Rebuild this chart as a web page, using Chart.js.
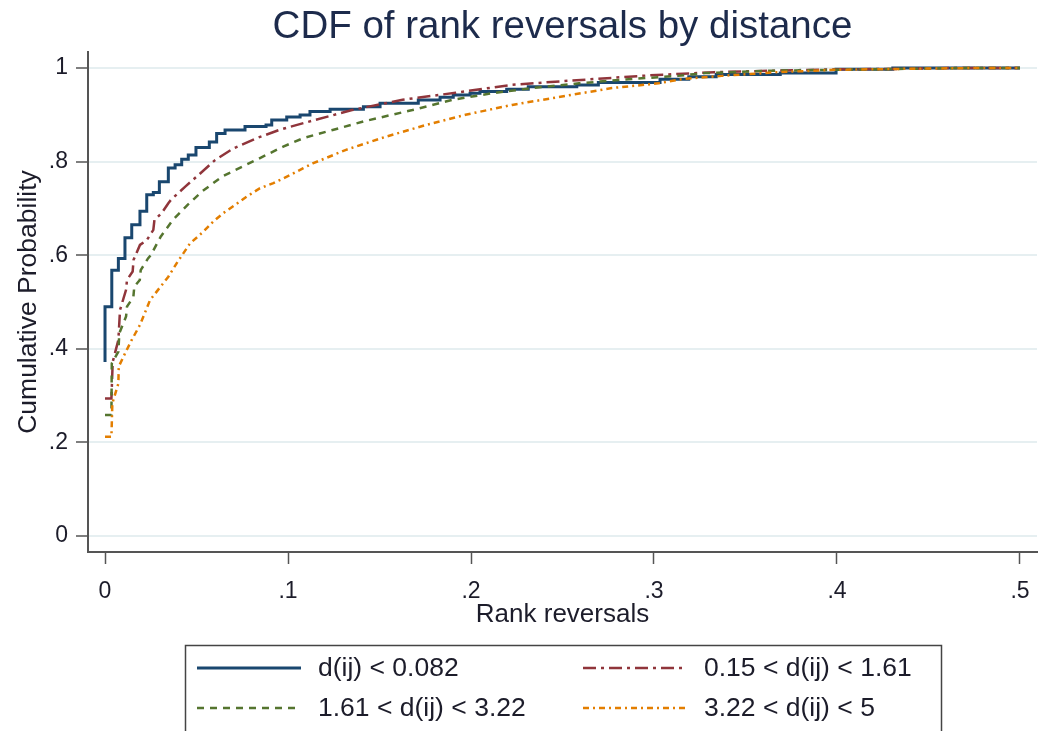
<!DOCTYPE html>
<html>
<head>
<meta charset="utf-8">
<script src="https://cdn.jsdelivr.net/npm/chart.js@4"></script>
<style>
  body { margin: 0; background: #fff; }
</style>
</head>
<body>
<canvas id="cdfChart" width="1040" height="731"></canvas>
<script>
// values
const seriesLabels = ['d(ij) < 0.082', '0.15 < d(ij) < 1.61', '1.61 < d(ij) < 3.22', '3.22 < d(ij) < 5'];

const navyX = [0, 0.0037, 0.0073, 0.0109, 0.0146, 0.0191, 0.0228, 0.0264, 0.0297, 0.0346, 0.0383, 0.0419, 0.0455, 0.0497, 0.057, 0.061, 0.0656, 0.0765, 0.088, 0.0911, 0.0993, 0.1066, 0.112, 0.123, 0.1412, 0.1503, 0.1712, 0.1831, 0.1903, 0.1995, 0.2049, 0.2195, 0.2313, 0.2578, 0.2696, 0.3033, 0.319, 0.334, 0.369, 0.3995, 0.4305, 0.435, 0.5];
const navyY = [0.372, 0.49, 0.568, 0.593, 0.637, 0.665, 0.694, 0.729, 0.734, 0.757, 0.786, 0.793, 0.805, 0.814, 0.83, 0.842, 0.86, 0.8675, 0.875, 0.878, 0.889, 0.895, 0.8996, 0.9067, 0.9117, 0.9173, 0.9245, 0.9316, 0.9374, 0.9423, 0.9459, 0.9494, 0.9545, 0.96, 0.9637, 0.9690, 0.976, 0.981, 0.986, 0.989, 0.997, 1, 1];

const maroonX = [0, 0.0035, 0.0042, 0.0073, 0.0082, 0.0115, 0.012, 0.0151, 0.0156, 0.0191, 0.0228, 0.0264, 0.027, 0.031, 0.0346, 0.036, 0.0437, 0.051, 0.0601, 0.0701, 0.0829, 0.0956, 0.1084, 0.135, 0.1626, 0.1916, 0.2225, 0.255, 0.297, 0.333, 0.364, 0.40, 0.437, 0.46, 0.5];
const maroonY = [0.294, 0.294, 0.372, 0.419, 0.483, 0.526, 0.547, 0.565, 0.59, 0.622, 0.632, 0.654, 0.675, 0.69, 0.711, 0.718, 0.746, 0.771, 0.803, 0.828, 0.85, 0.868, 0.882, 0.91, 0.932, 0.947, 0.964, 0.973, 0.984, 0.991, 0.994, 0.997, 0.998, 1, 1];

const greenX = [0, 0.0035, 0.0037, 0.0073, 0.0078, 0.0115, 0.012, 0.0155, 0.016, 0.019, 0.0195, 0.0235, 0.025, 0.0305, 0.037, 0.045, 0.053, 0.064, 0.075, 0.086, 0.0974, 0.1084, 0.1244, 0.1426, 0.168, 0.19, 0.2116, 0.2334, 0.259, 0.286, 0.313, 0.328, 0.364, 0.40, 0.437, 0.47, 0.5];
const greenY = [0.2585, 0.2585, 0.369, 0.394, 0.433, 0.469, 0.49, 0.511, 0.533, 0.547, 0.568, 0.593, 0.60, 0.64, 0.675, 0.707, 0.736, 0.768, 0.789, 0.81, 0.832, 0.85, 0.8675, 0.887, 0.91, 0.932, 0.946, 0.957, 0.967, 0.976, 0.983, 0.989, 0.994, 0.996, 0.998, 1, 1];

const orangeX = [0, 0.0035, 0.004, 0.0073, 0.0075, 0.0109, 0.0146, 0.0191, 0.0246, 0.03, 0.0346, 0.0392, 0.0464, 0.0537, 0.0592, 0.0647, 0.071, 0.0774, 0.0847, 0.092, 0.1011, 0.1084, 0.1135, 0.1317, 0.1535, 0.1753, 0.197, 0.2225, 0.2497, 0.277, 0.3025, 0.315, 0.337, 0.368, 0.40, 0.437, 0.48, 0.5];
const orangeY = [0.212, 0.212, 0.2835, 0.326, 0.362, 0.39, 0.419, 0.451, 0.504, 0.531, 0.554, 0.583, 0.625, 0.65, 0.672, 0.69, 0.707, 0.725, 0.743, 0.754, 0.771, 0.786, 0.796, 0.825, 0.853, 0.878, 0.90, 0.921, 0.939, 0.957, 0.967, 0.976, 0.983, 0.991, 0.996, 0.998, 1, 1];

const xTicks = [0, 0.1, 0.2, 0.3, 0.4, 0.5];
const yTicks = [0, 0.2, 0.4, 0.6, 0.8, 1];

const FONT = '"Liberation Sans", Arial, sans-serif';
const AXIS_COLOR = '#555555';
const TEXT_COLOR = '#1c1c2a';

function pts(xs, ys) {
    return xs.map((x, i) => ({x: x, y: ys[i]}));
}

// Stata-like labels: .1 .2 ... without the leading zero
function stataLabel(v) {
    if (v === 0) return '0';
    if (v === 1) return '1';
    return v.toFixed(1).replace(/^0/, '');
}

const styles = [
    {color: '#1a476f', width: 3,   dash: []},
    {color: '#90353b', width: 2.5, dash: [13, 5, 3, 5]},
    {color: '#55752f', width: 2.5, dash: [7, 6]},
    {color: '#e37e00', width: 2.5, dash: [6, 4, 2, 4]}
];

const seriesData = [pts(navyX, navyY), pts(maroonX, maroonY), pts(greenX, greenY), pts(orangeX, orangeY)];

const datasets = seriesData.map(function(d, i) {
    return {
        label: seriesLabels[i],
        data: d,
        borderColor: styles[i].color,
        borderWidth: styles[i].width,
        borderDash: styles[i].dash,
        stepped: i === 0 ? 'after' : false,
        pointRadius: 0,
        fill: false,
        order: 3 - i
    };
});

// legend box under the plot, two columns like the original
const boxLegend = {
    id: 'boxLegend',
    afterDraw(chart) {
        const ctx = chart.ctx;
        ctx.save();
        ctx.strokeStyle = '#444';
        ctx.lineWidth = 1.5;
        ctx.strokeRect(185.5, 645.5, 756, 100);
        const cols = [197, 583];
        const rows = [668, 708];
        ctx.font = '26.5px ' + FONT;
        ctx.fillStyle = TEXT_COLOR;
        ctx.textBaseline = 'middle';
        for (var k = 0; k < seriesLabels.length; k++) {
            const cx = cols[k % 2];
            const cy = rows[Math.floor(k / 2)];
            const st = styles[k];
            ctx.beginPath();
            ctx.setLineDash(st.dash);
            ctx.strokeStyle = st.color;
            ctx.lineWidth = st.width;
            ctx.moveTo(cx, cy);
            ctx.lineTo(cx + 104, cy);
            ctx.stroke();
            ctx.setLineDash([]);
            ctx.fillText(seriesLabels[k], cx + 121, cy + 1);
        }
        ctx.restore();
    }
};

var ctx = document.getElementById('cdfChart');
var chart = new Chart(ctx, {
    type: 'line',
    data: {datasets: datasets},
    options: {
        responsive: false,
        animation: false,
        devicePixelRatio: 1,
        layout: {padding: {left: 0, right: 3, top: 0, bottom: 101}},
        plugins: {
            legend: {display: false},
            tooltip: {enabled: false},
            title: {
                display: true,
                fullSize: false,
                text: 'CDF of rank reversals by distance',
                color: '#1d2b4c',
                font: {family: FONT, size: 38.5, weight: 'normal'},
                padding: {top: 4, bottom: 1.8}
            }
        },
        scales: {
            x: {
                type: 'linear',
                min: -0.0093,
                max: 0.5093,
                afterBuildTicks: function(s) { s.ticks = xTicks.map(v => ({value: v})); },
                afterFit: function(s) {
                    s.height = 78;
                    s.paddingLeft = 0;
                    s.paddingRight = 0;
                },
                ticks: {
                    callback: stataLabel,
                    font: {family: FONT, size: 23},
                    color: TEXT_COLOR,
                    padding: 14,
                    maxRotation: 0
                },
                grid: {drawOnChartArea: false, tickLength: 12, tickColor: AXIS_COLOR, tickWidth: 1.5},
                border: {color: AXIS_COLOR, width: 2},
                title: {
                    display: true,
                    text: 'Rank reversals',
                    color: TEXT_COLOR,
                    font: {family: FONT, size: 26},
                    padding: {top: 0, bottom: 0}
                }
            },
            y: {
                min: -0.034,
                max: 1.034,
                afterBuildTicks: function(s) { s.ticks = yTicks.map(v => ({value: v})); },
                afterFit: function(s) { s.width = 88; },
                ticks: {
                    callback: stataLabel,
                    font: {family: FONT, size: 23},
                    color: TEXT_COLOR,
                    padding: 8
                },
                grid: {color: '#e6eff1', lineWidth: 2, tickLength: 12, tickColor: AXIS_COLOR, tickWidth: 1.5},
                border: {color: AXIS_COLOR, width: 2},
                title: {
                    display: true,
                    text: 'Cumulative Probability',
                    color: TEXT_COLOR,
                    font: {family: FONT, size: 26.5},
                    padding: {top: 12.5, bottom: 0}
                }
            }
        }
    },
    plugins: [boxLegend]
});
</script>
</body>
</html>
